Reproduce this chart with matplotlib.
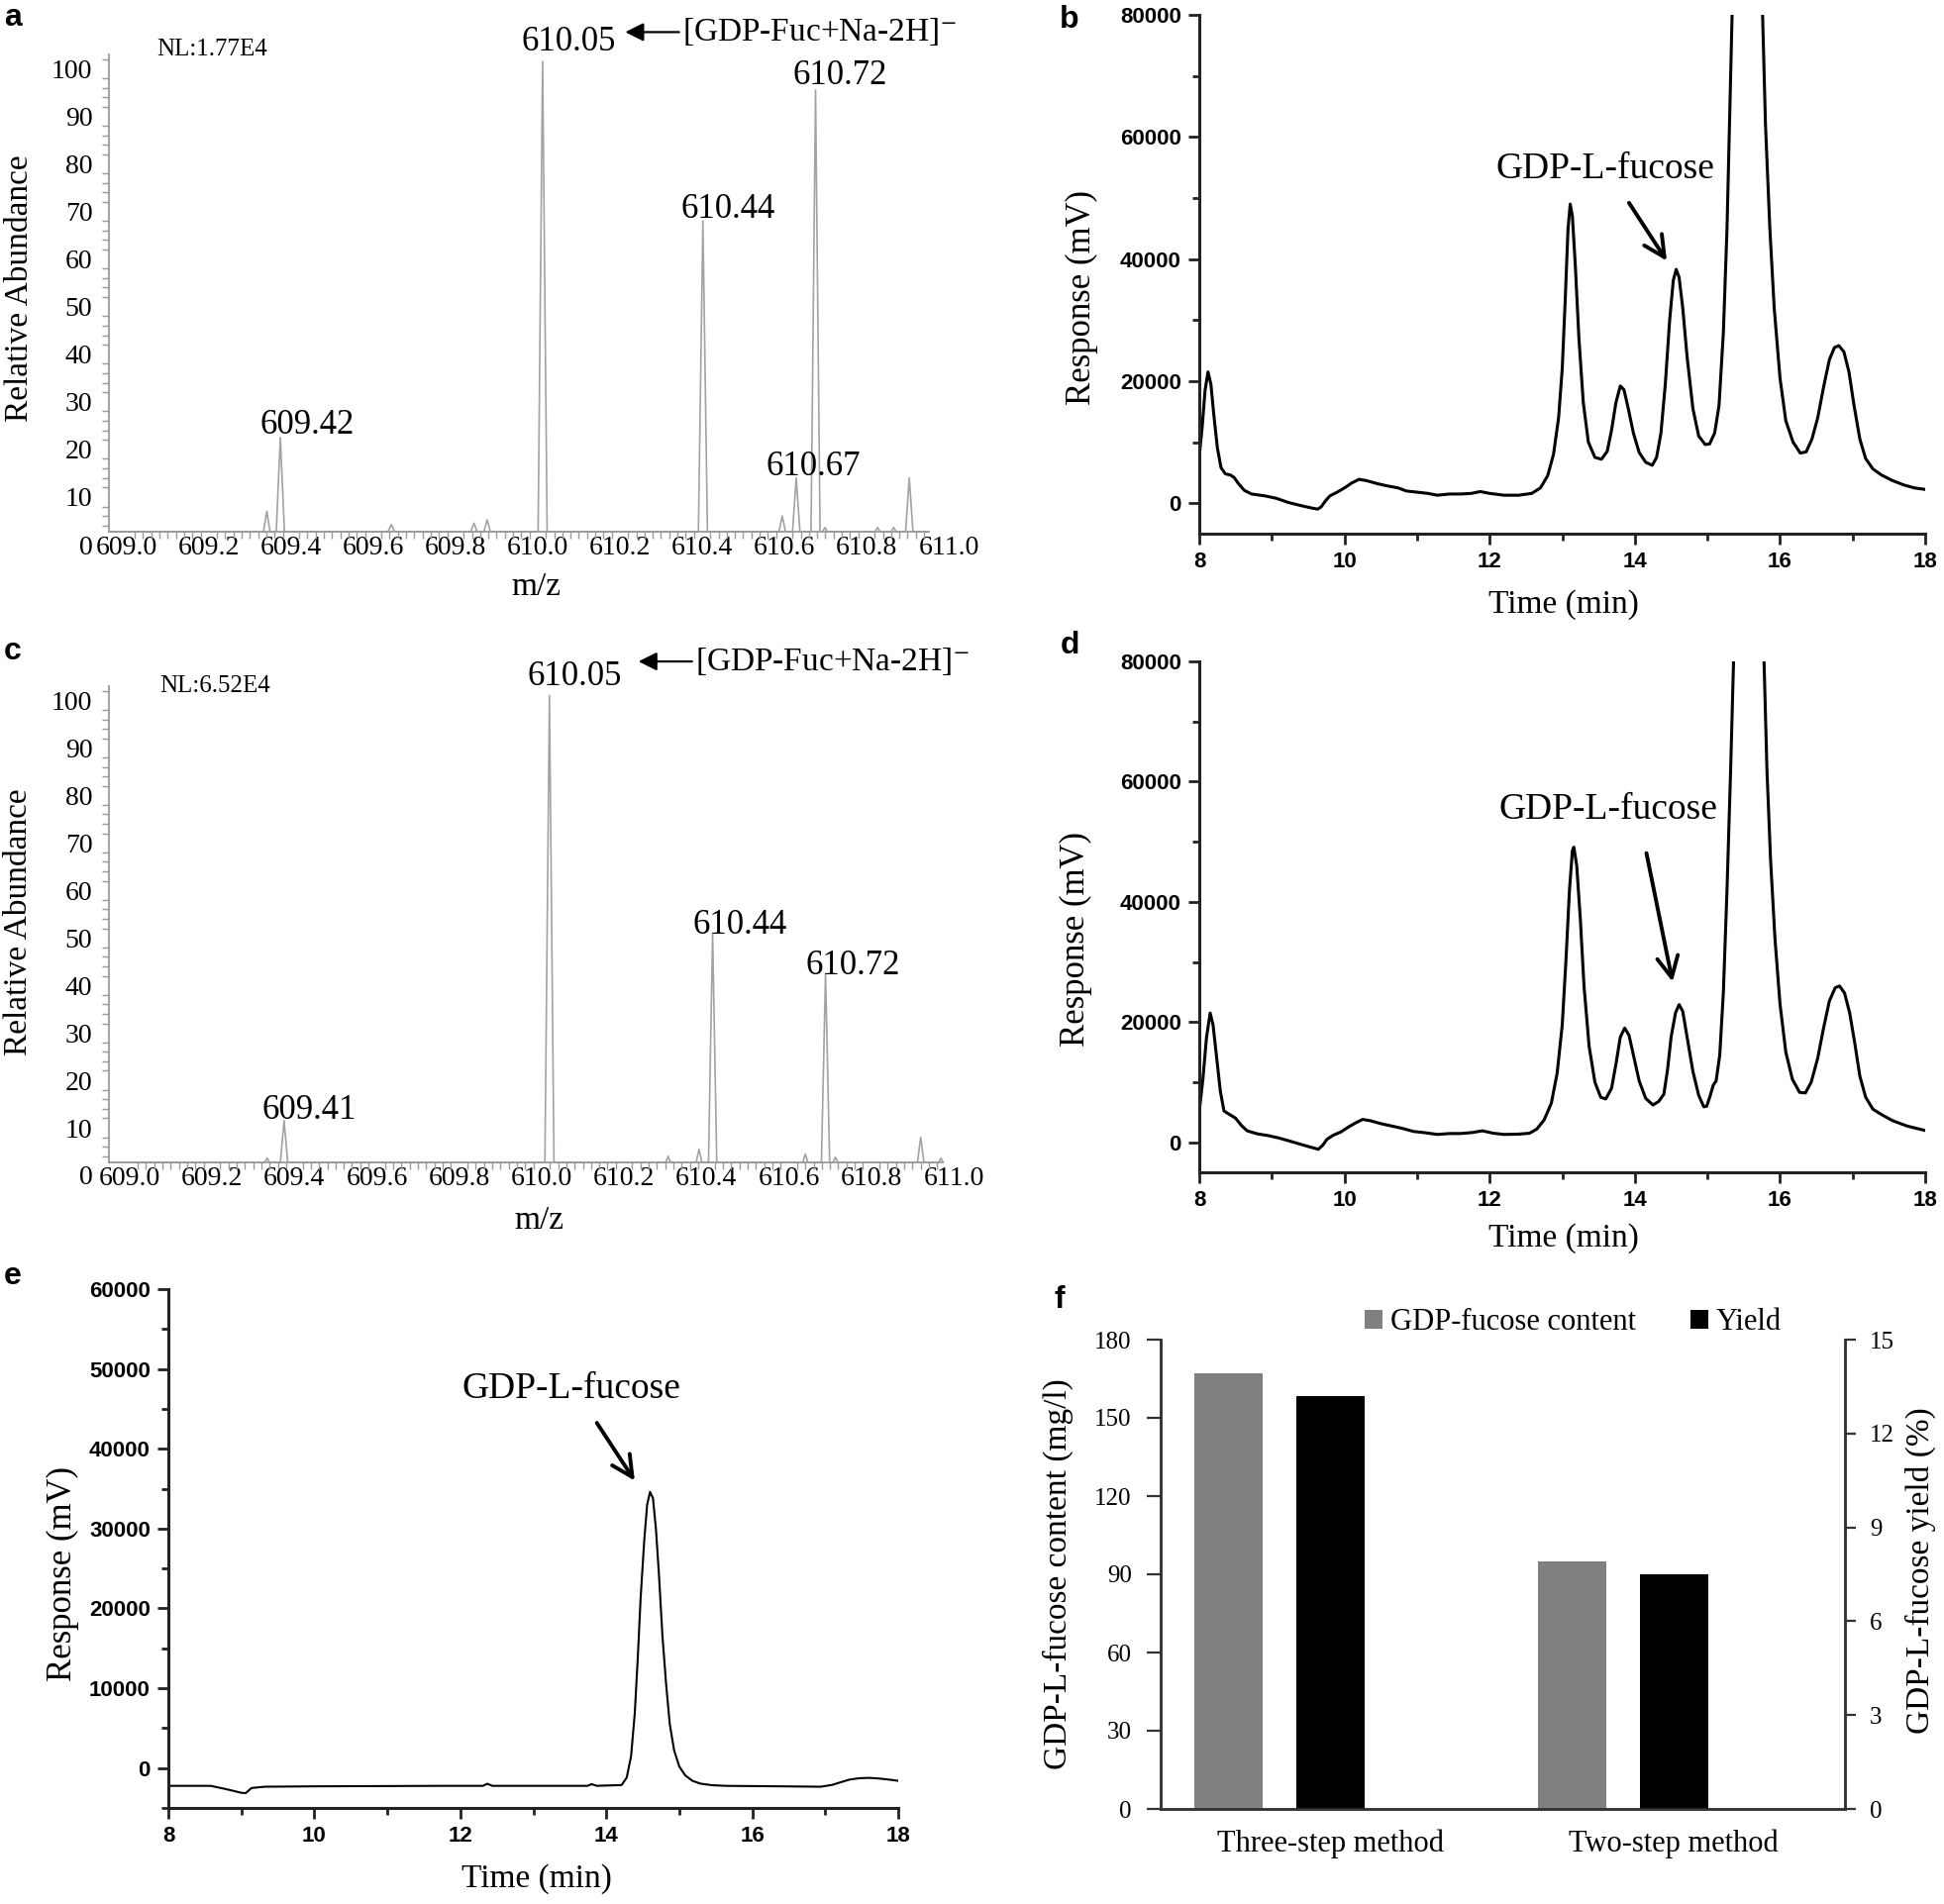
import numpy as np
import matplotlib
matplotlib.use('Agg')
import matplotlib.pyplot as plt
from matplotlib.ticker import MultipleLocator, FixedLocator
from matplotlib.patches import Patch

plt.rcParams['font.family'] = ['Liberation Serif', 'DejaVu Serif']
plt.rcParams['mathtext.fontset'] = 'stix'

# ---- data ----
ms_ticks = ['609.0', '609.2', '609.4', '609.6', '609.8', '610.0',
            '610.2', '610.4', '610.6', '610.8', '611.0']
ab_ticks = [0, 10, 20, 30, 40, 50, 60, 70, 80, 90, 100]

# panel a: m/z trace (profile points)
mz_a = [608.957, 609.333, 609.341, 609.349, 609.364, 609.374, 609.384,
        609.636, 609.644, 609.652, 609.837, 609.845, 609.853, 609.869, 609.877, 609.885,
        610.001, 610.012, 610.023, 610.391, 610.402, 610.413,
        610.587, 610.595, 610.603, 610.620, 610.629, 610.638, 610.665, 610.676, 610.687,
        610.693, 610.699, 610.705, 610.821, 610.827, 610.833, 610.860, 610.866, 610.872,
        610.895, 610.904, 610.913, 610.951]
ab_a = [2.7, 2.7, 7.0, 2.7, 2.7, 22.5, 2.7,
        2.7, 4.2, 2.7, 2.7, 4.5, 2.7, 2.7, 5.2, 2.7,
        2.7, 101.5, 2.7, 2.7, 68.0, 2.7,
        2.7, 6.0, 2.7, 2.7, 14.0, 2.7, 2.7, 95.5, 2.7,
        2.7, 3.6, 2.7, 2.7, 3.6, 2.7, 2.7, 3.6, 2.7,
        2.7, 14.0, 2.7, 2.7]
peak_lbl_a = ['609.42', '610.05', '610.44', '610.72', '610.67']
peak_pos_a = [(609.440, 25.0), (610.075, 105.6), (610.463, 70.4), (610.735, 98.6), (610.670, 16.4)]

# panel c
mz_c = [608.950, 609.328, 609.334, 609.340, 609.366, 609.375, 609.384,
        610.008, 610.019, 610.030, 610.301, 610.307, 610.313, 610.375, 610.382, 610.389,
        610.405, 610.415, 610.425, 610.634, 610.640, 610.646, 610.679, 610.689, 610.699,
        610.707, 610.713, 610.719, 610.912, 610.920, 610.928, 610.963, 610.969, 610.975]
ab_c = [2.7, 2.7, 3.6, 2.7, 2.7, 11.5, 2.7,
        2.7, 101.0, 2.7, 2.7, 4.0, 2.7, 2.7, 5.5, 2.7,
        2.7, 51.0, 2.7, 2.7, 4.5, 2.7, 2.7, 42.5, 2.7,
        2.7, 3.8, 2.7, 2.7, 8.0, 2.7, 2.7, 3.6, 2.7]
peak_lbl_c = ['609.41', '610.05', '610.44', '610.72']
peak_pos_c = [(609.437, 13.7), (610.081, 105.0), (610.480, 52.6), (610.756, 44.0)]

# panel b: HPLC trace
t_b = [8.0, 8.04, 8.08, 8.12, 8.16, 8.2, 8.25, 8.3, 8.36, 8.43,
       8.48, 8.54, 8.62, 8.72, 8.9, 9.06, 9.23, 9.4, 9.55, 9.63,
       9.68, 9.74, 9.8, 9.9, 10.0, 10.1, 10.2, 10.3, 10.45, 10.6,
       10.74, 10.85, 11.0, 11.15, 11.28, 11.45, 11.6, 11.75, 11.87, 12.0,
       12.2, 12.4, 12.58, 12.7, 12.8, 12.88, 12.95, 13.0, 13.04, 13.08,
       13.11, 13.14, 13.18, 13.23, 13.29, 13.36, 13.45, 13.54, 13.62, 13.68,
       13.74, 13.8, 13.85, 13.91, 13.98, 14.06, 14.15, 14.24, 14.3, 14.36,
       14.42, 14.48, 14.53, 14.57, 14.61, 14.66, 14.72, 14.8, 14.88, 14.97,
       15.03, 15.1, 15.16, 15.22, 15.27, 15.31, 15.34, 15.55, 15.76, 15.8,
       15.86, 15.92, 16.0, 16.08, 16.18, 16.28, 16.36, 16.44, 16.52, 16.6,
       16.68, 16.75, 16.81, 16.88, 16.95, 17.02, 17.1, 17.18, 17.28, 17.4,
       17.55, 17.7, 17.85, 18.0]
v_b = [7700, 12500, 18500, 21500, 19500, 14500, 9000, 5800, 4800, 4600,
       4200, 3200, 2100, 1500, 1200, 800, 100, -400, -800, -980,
       -600, 400, 1200, 1800, 2500, 3300, 3900, 3700, 3200, 2800,
       2500, 2000, 1800, 1600, 1300, 1500, 1500, 1600, 1900, 1600,
       1300, 1300, 1600, 2500, 4500, 8000, 14000, 22000, 33000, 45000,
       49000, 47000, 39000, 27000, 16500, 10000, 7500, 7200, 8500, 12000,
       16500, 19200, 18600, 15500, 11500, 8300, 6700, 6200, 7500, 11500,
       19500, 30000, 36500, 38300, 37000, 32000, 24000, 15500, 11000, 9600,
       9700, 11500, 16000, 28000, 45000, 65000, 80000, 130000, 80000, 62000,
       45000, 32000, 20500, 13500, 10000, 8200, 8400, 10500, 14000, 19000,
       23500, 25500, 25800, 24800, 21500, 16000, 10500, 7300, 5600, 4600,
       3700, 3000, 2500, 2250]

# panel d
t_d = [8.0, 8.05, 8.1, 8.15, 8.19, 8.24, 8.29, 8.34, 8.42, 8.5,
       8.58, 8.66, 8.8, 8.95, 9.1, 9.3, 9.5, 9.64, 9.7, 9.76,
       9.85, 9.95, 10.05, 10.15, 10.25, 10.35, 10.5, 10.65, 10.8, 10.95,
       11.1, 11.28, 11.45, 11.6, 11.75, 11.9, 12.05, 12.2, 12.4, 12.55,
       12.65, 12.75, 12.85, 12.93, 13.0, 13.05, 13.1, 13.14, 13.16, 13.2,
       13.25, 13.3, 13.37, 13.45, 13.53, 13.6, 13.68, 13.74, 13.8, 13.86,
       13.92, 13.99, 14.06, 14.15, 14.25, 14.33, 14.4, 14.45, 14.5, 14.56,
       14.61, 14.66, 14.72, 14.8, 14.88, 14.95, 14.99, 15.04, 15.08, 15.12,
       15.17, 15.22, 15.27, 15.32, 15.36, 15.57, 15.78, 15.82, 15.87, 15.93,
       16.0, 16.08, 16.17, 16.27, 16.35, 16.43, 16.52, 16.6, 16.68, 16.76,
       16.82, 16.89, 16.96, 17.03, 17.1, 17.18, 17.28, 17.4, 17.55, 17.75,
       18.0]
v_d = [5200, 10500, 17500, 21500, 19500, 14000, 8500, 5200, 4600, 4000,
       2800, 1900, 1400, 1100, 700, 0, -700, -1170, -500, 500,
       1200, 1700, 2500, 3200, 3800, 3600, 3100, 2700, 2300, 1800,
       1600, 1300, 1450, 1450, 1600, 1900, 1500, 1300, 1350, 1500,
       2200, 3700, 6500, 11500, 19500, 30000, 42000, 48500, 49100, 46000,
       37000, 26000, 16000, 10000, 7500, 7200, 9000, 13000, 17500, 19000,
       17800, 14000, 10200, 7300, 6200, 6800, 8000, 12000, 17500, 21500,
       22900, 21800, 17500, 11800, 7800, 5900, 6000, 7800, 9500, 10200,
       14500, 25000, 42000, 62000, 80000, 130000, 80000, 62000, 47000, 34000,
       23000, 15000, 10500, 8300, 8200, 10000, 14000, 19000, 23500, 25700,
       26000, 24800, 21500, 16500, 11000, 7500, 5500, 4600, 3600, 2700,
       1950]

# panel e
t_e = [8.0, 8.58, 8.8, 9.0, 9.06, 9.14, 9.32, 10.0, 11.74, 12.31,
       12.37, 12.44, 13.74, 13.8, 13.87, 14.21, 14.28, 14.34, 14.39, 14.43,
       14.47, 14.52, 14.56, 14.6, 14.64, 14.68, 14.72, 14.77, 14.82, 14.87,
       14.93, 15.0, 15.08, 15.18, 15.29, 15.45, 15.64, 16.5, 16.94, 17.1,
       17.2, 17.33, 17.46, 17.6, 17.72, 17.85, 18.0]
v_e = [-2230, -2230, -2660, -3100, -3140, -2500, -2340, -2290, -2230, -2230,
       -1970, -2230, -2230, -2020, -2230, -2130, -1200, 1500, 6800, 13500,
       21200, 28500, 33000, 34600, 33800, 30000, 24500, 16500, 10500, 5500,
       2200, 200, -900, -1600, -1950, -2150, -2230, -2300, -2340, -2100,
       -1810, -1450, -1280, -1230, -1300, -1420, -1600]

# panel f
methods = ['Three-step method', 'Two-step method']
content = [167, 95]
yield_pct = [13.2, 7.5]

W, H = 1963, 1923
fig = plt.figure(figsize=(W / 100, H / 100), dpi=100)


def box(left, top, right, bottom):
    return [left / W, 1 - bottom / H, (right - left) / W, (bottom - top) / H]


def ms_panel(rect, mz, ab, x_left, x_end):
    ax = fig.add_axes(rect)
    ax.plot(mz, ab, color='#a3a3a3', lw=1.2)
    ax.set_xlim(x_left, 611.0)
    ax.set_ylim(0, 103)
    ax.spines['top'].set_visible(False)
    ax.spines['right'].set_visible(False)
    ax.spines['bottom'].set_position(('data', 2.7))
    ax.spines['bottom'].set_bounds(x_left, x_end)
    ax.spines['left'].set_bounds(2.7, 103)
    for s in ['bottom', 'left']:
        ax.spines[s].set_color('#9a9a9a')
        ax.spines[s].set_linewidth(1.3)
    ax.set_xticks([float(s) for s in ms_ticks])
    ax.set_xticklabels(ms_ticks)
    ax.set_yticks(ab_ticks)
    ax.xaxis.set_minor_locator(FixedLocator(np.arange(609.0, x_end, 0.02)))
    ax.yaxis.set_minor_locator(FixedLocator(np.arange(4, 103, 2)))
    ax.tick_params(which='major', length=0)
    ax.tick_params(axis='x', which='major', pad=3, labelsize=20)
    ax.tick_params(axis='y', which='major', pad=12, labelsize=20)
    ax.tick_params(which='minor', length=5, width=1, color='#9a9a9a', direction='out')
    ax.set_ylabel('Relative Abundance', fontsize=24, va='center')
    ax.set_xlabel('m/z', fontsize=24, va='center')
    return ax


def lc_panel(rect, t, v, ymax, ystep, lw):
    ax = fig.add_axes(rect)
    ax.plot(t, v, color='black', lw=lw, solid_joinstyle='round')
    ax.set_xlim(8, 18)
    ax.set_ylim(-5000, ymax)
    ax.spines['top'].set_visible(False)
    ax.spines['right'].set_visible(False)
    for s in ['bottom', 'left']:
        ax.spines[s].set_color('#222222')
        ax.spines[s].set_linewidth(2.2)
    ax.xaxis.set_major_locator(MultipleLocator(2))
    ax.xaxis.set_minor_locator(MultipleLocator(1))
    ax.set_yticks(np.arange(0, ymax + 1, ystep))
    ax.yaxis.set_minor_locator(MultipleLocator(ystep / 2))
    ax.tick_params(which='major', length=8, width=2, color='#222222', pad=5, labelsize=16)
    ax.tick_params(which='minor', length=5, width=2, color='#222222')
    for lab in ax.get_xticklabels() + ax.get_yticklabels():
        lab.set_family(['Liberation Sans', 'DejaVu Sans'])
        lab.set_weight('bold')
    ax.set_ylabel('Response (mV)', fontsize=25, va='center')
    ax.set_xlabel('Time (min)', fontsize=24, va='center')
    return ax


def tag(x, y, s):
    fig.text(x / W, 1 - y / H, s, fontsize=23, fontweight='bold',
             family=['Liberation Sans', 'DejaVu Sans'], ha='center', va='center')


# ---- panel a ----
ax = ms_panel(box(110, 55, 958, 550), mz_a, ab_a, 608.957, 610.951)
ax.yaxis.set_label_coords(-0.107, 0.523)
ax.xaxis.set_label_coords(0.509, -0.087)
for s, (x, y) in zip(peak_lbl_a, peak_pos_a):
    ax.text(x, y, s, fontsize=25, ha='center', va='center', clip_on=False)
ax.text(609.208, 104, 'NL:1.77E4', fontsize=18, ha='center', va='center', clip_on=False)
ax.annotate('', xy=(610.213, 107.7), xytext=(610.344, 107.7),
            arrowprops=dict(arrowstyle='-|>', lw=1.6, color='black', mutation_scale=28,
                            shrinkA=0, shrinkB=0), annotation_clip=False)
ax.text(610.352, 107.7, '[GDP-Fuc+Na-2H]$^{-}$', fontsize=24, ha='left', va='center',
        clip_on=False)
tag(13, 18, 'a')

# ---- panel c ----
ax = ms_panel(box(110, 693, 963, 1187), mz_c, ab_c, 608.950, 610.97)
ax.yaxis.set_label_coords(-0.107, 0.518)
ax.xaxis.set_label_coords(0.509, -0.093)
for s, (x, y) in zip(peak_lbl_c, peak_pos_c):
    ax.text(x, y, s, fontsize=25, ha='center', va='center', clip_on=False)
ax.text(609.207, 103, 'NL:6.52E4', fontsize=18, ha='center', va='center', clip_on=False)
ax.annotate('', xy=(610.235, 108.2), xytext=(610.365, 108.2),
            arrowprops=dict(arrowstyle='-|>', lw=1.6, color='black', mutation_scale=28,
                            shrinkA=0, shrinkB=0), annotation_clip=False)
ax.text(610.373, 108.2, '[GDP-Fuc+Na-2H]$^{-}$', fontsize=24, ha='left', va='center',
        clip_on=False)
tag(13, 658, 'c')

arrow_kw = dict(arrowstyle='->', lw=2.8, color='black', mutation_scale=38,
                shrinkA=0, shrinkB=0)

# ---- panel b ----
ax = lc_panel(box(1211, 15, 1944, 539), t_b, v_b, 80000, 20000, 2.2)
ax.yaxis.set_label_coords(-0.162, 0.456)
ax.xaxis.set_label_coords(0.502, -0.137)
ax.text(13.59, 54800, 'GDP-L-fucose', fontsize=27, ha='center', va='center')
ax.annotate('', xy=(14.44, 39700), xytext=(13.92, 49200), arrowprops=arrow_kw)
tag(1080, 20, 'b')

# ---- panel d ----
ax = lc_panel(box(1211, 668, 1944, 1184), t_d, v_d, 80000, 20000, 2.2)
ax.yaxis.set_label_coords(-0.17, 0.457)
ax.xaxis.set_label_coords(0.502, -0.13)
ax.text(13.63, 55300, 'GDP-L-fucose', fontsize=27, ha='center', va='center')
ax.annotate('', xy=(14.52, 26700), xytext=(14.16, 48100), arrowprops=arrow_kw)
tag(1080, 652, 'd')

# ---- panel e ----
ax = lc_panel(box(170, 1302, 907, 1826), t_e, v_e, 60000, 10000, 1.5)
ax.yaxis.set_label_coords(-0.144, 0.452)
ax.xaxis.set_label_coords(0.505, -0.137)
ax.text(13.52, 47500, 'GDP-L-fucose', fontsize=27, ha='center', va='center')
ax.annotate('', xy=(14.39, 36000), xytext=(13.87, 43250), arrowprops=arrow_kw)
tag(13, 1289, 'e')

# ---- panel f ----
ax = fig.add_axes(box(1172, 1353, 1863, 1827))
ax2 = ax.twinx()
x = np.arange(len(methods))
ax.bar(x - 0.148, content, width=0.2, color='#808080')
ax2.bar(x + 0.148, yield_pct, width=0.2, color='black')
ax.set_xlim(-0.346, 1.646)
ax.set_ylim(0, 180)
ax2.set_ylim(0, 15)
ax.set_yticks(np.arange(0, 181, 30))
ax2.set_yticks(np.arange(0, 16, 3))
ax.set_xticks(x + 0.148)
ax.set_xticklabels(methods)
for a in (ax, ax2):
    a.spines['top'].set_visible(False)
    for s in ['left', 'right', 'bottom']:
        a.spines[s].set_color('#333333')
        a.spines[s].set_linewidth(1.8)
ax.tick_params(axis='y', length=10, width=1.6, color='#333333', pad=11, labelsize=18)
ax2.tick_params(axis='y', length=8, width=1.6, color='#333333', pad=10, labelsize=18)
ax.tick_params(axis='x', length=0, pad=15, labelsize=22)
ax.set_ylabel('GDP-L-fucose content (mg/l)', fontsize=24, va='center')
ax.yaxis.set_label_coords(-0.15, 0.5)
ax2.set_ylabel('GDP-L-fucose yield (%)', fontsize=24, rotation=90, va='center')
ax2.yaxis.set_label_coords(1.111, 0.508)
handles = [Patch(facecolor='#808080'), Patch(facecolor='black')]
ax.legend(handles, ['GDP-fucose content', 'Yield'], ncol=2, frameon=False,
          loc='center', bbox_to_anchor=(0.603, 1.036), fontsize=22,
          handlelength=0.6, handleheight=0.6, handletextpad=0.25, columnspacing=1.8,
          borderpad=0)
tag(1070, 1313, 'f')

fig.savefig('out.png', dpi=100)
